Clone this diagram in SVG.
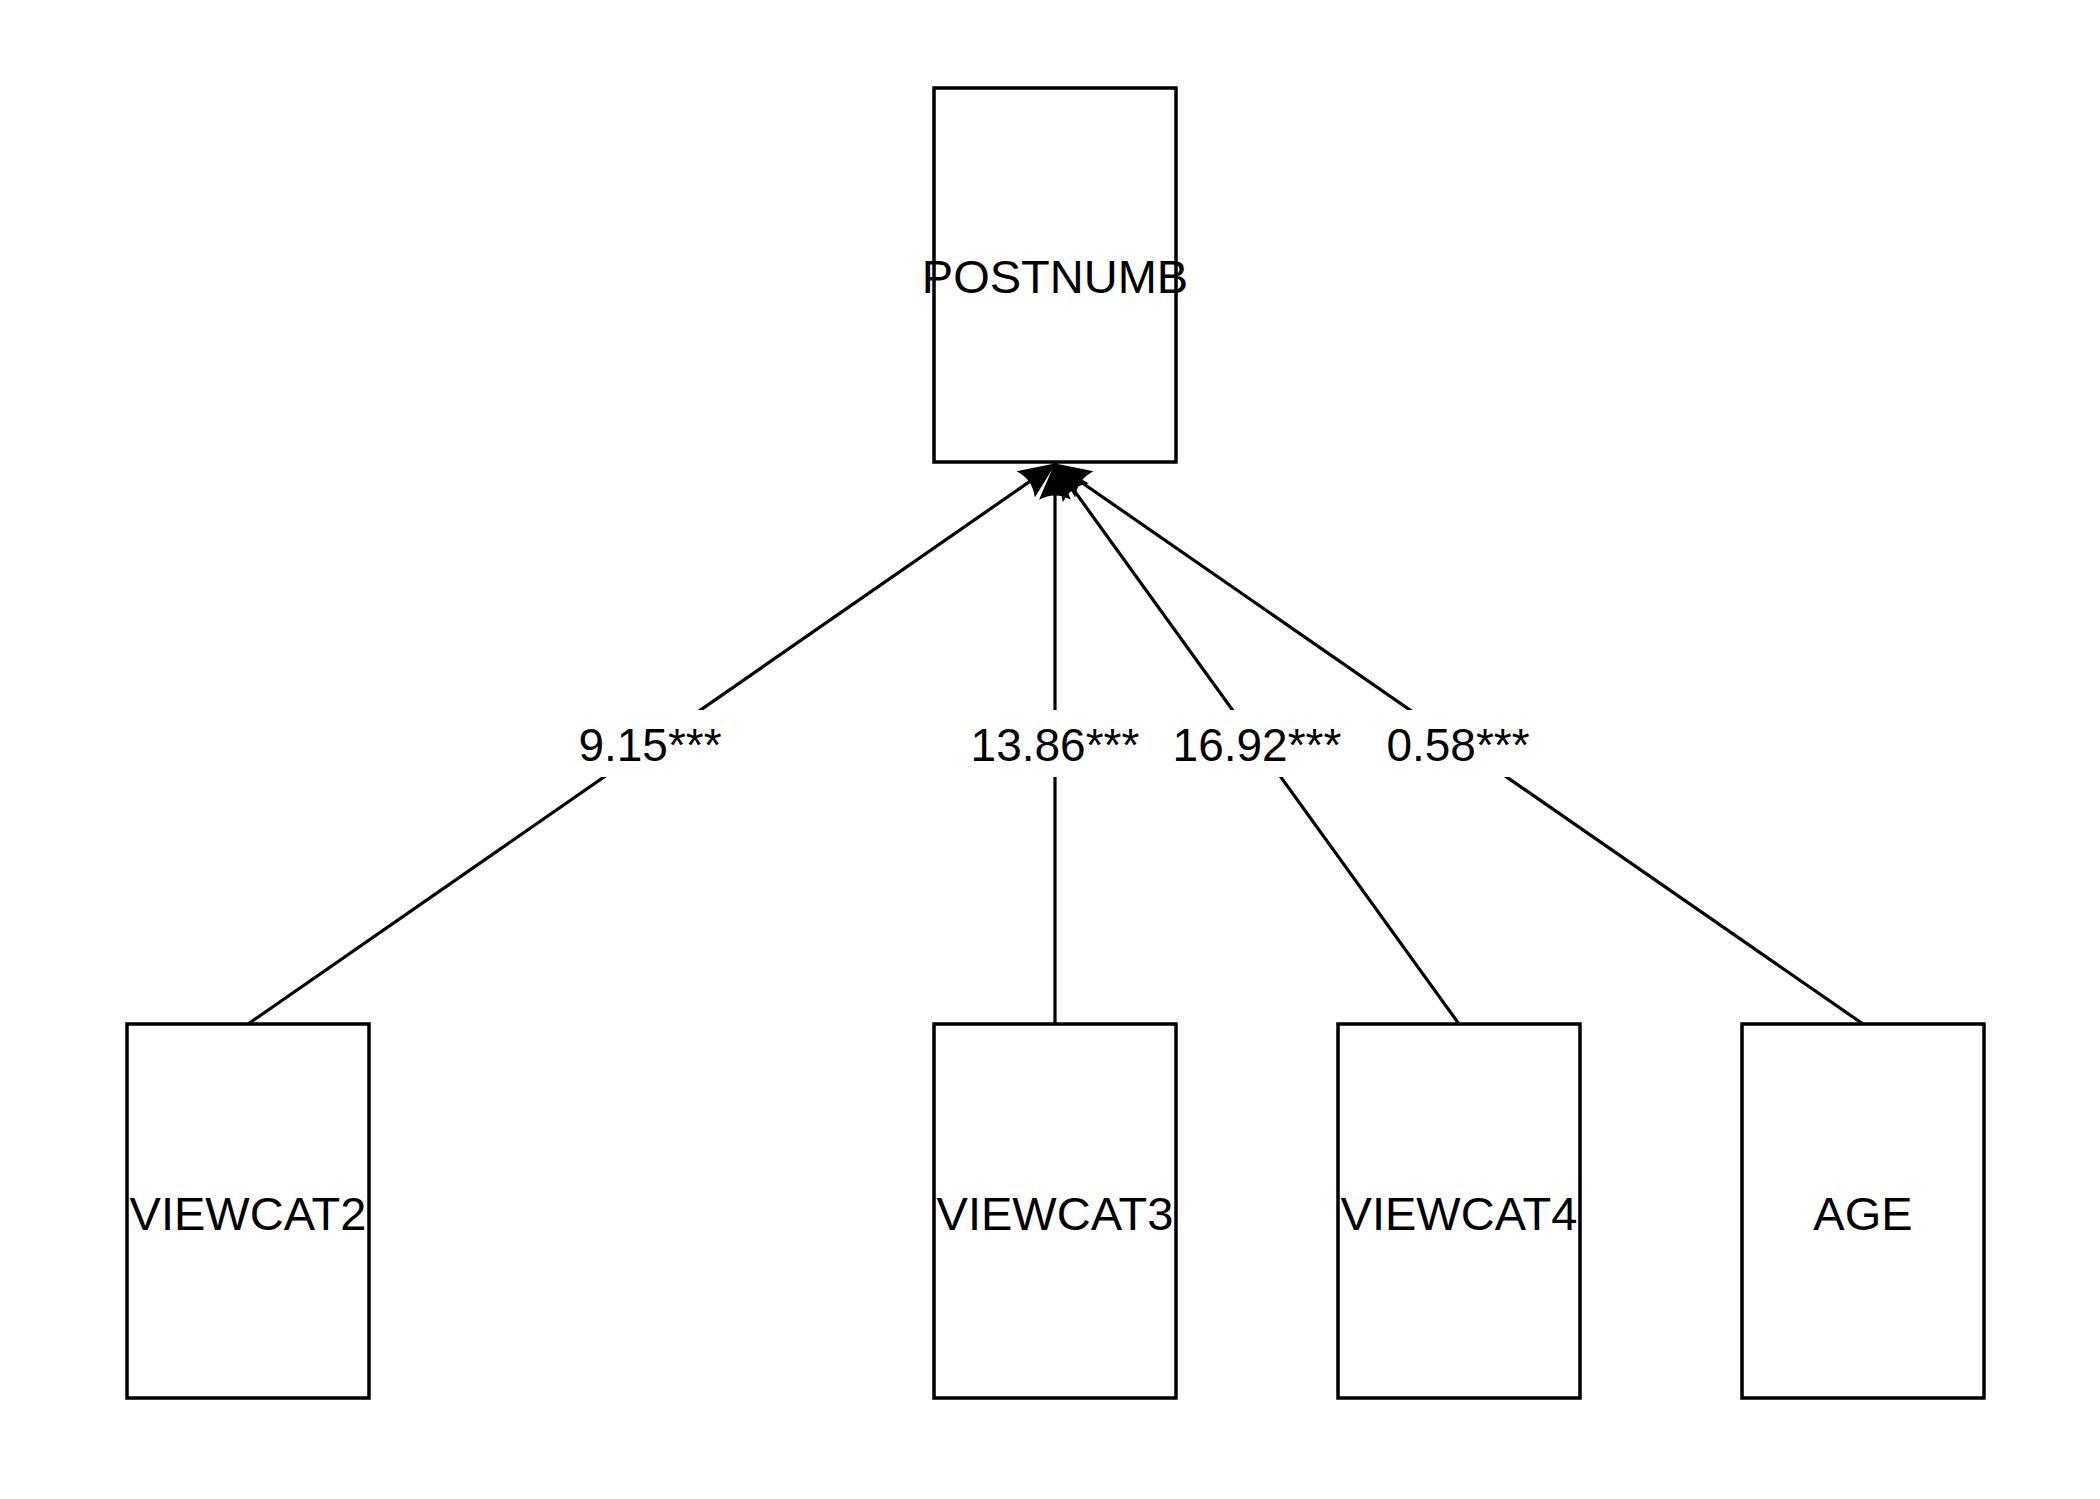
<svg xmlns="http://www.w3.org/2000/svg" width="2100" height="1499" viewBox="0 0 2100 1499">
<style>
.node rect{fill:#fff;stroke:#000;stroke-width:3.5}
.node text,.lbl text{font-family:"Liberation Sans",Arial,sans-serif;fill:#000;text-anchor:middle}
.node text{font-size:47px}
.lbl text{font-size:46px}
.edge{stroke:#000;stroke-width:3.2;fill:none}
.lbl rect{fill:#fff;stroke:none}
</style>
<defs>
<marker id="arr" markerUnits="userSpaceOnUse" markerWidth="40" markerHeight="32" viewBox="0 0 30 26" refX="29" refY="13" orient="auto">
<path d="M0,0 Q7,13 0,26 L30,13 Z" fill="#000"/>
</marker>
</defs>
<rect width="2100" height="1499" fill="#fff"/>
<g id="connectors">
<line class="edge" x1="248" y1="1024" x2="1055" y2="464" marker-end="url(#arr)"/>
<line class="edge" x1="1055" y1="1024" x2="1055" y2="464" marker-end="url(#arr)"/>
<line class="edge" x1="1459" y1="1024" x2="1055" y2="464" marker-end="url(#arr)"/>
<line class="edge" x1="1863" y1="1024" x2="1055" y2="464" marker-end="url(#arr)"/>
<g class="lbl">
<rect x="569" y="710" width="162" height="67"/><text x="650" y="761">9.15***</text>
<rect x="964" y="710" width="182" height="67"/><text x="1055" y="761">13.86***</text>
<rect x="1166" y="710" width="182" height="67"/><text x="1257" y="761">16.92***</text>
<rect x="1377" y="710" width="162" height="67"/><text x="1458" y="761">0.58***</text>
</g>
</g>
<g id="POSTNUMB" class="node"><rect x="934" y="88" width="242" height="374"/><text x="1055" y="293">POSTNUMB</text></g>
<g id="VIEWCAT2" class="node"><rect x="127" y="1024" width="242" height="374"/><text x="248" y="1230">VIEWCAT2</text></g>
<g id="VIEWCAT3" class="node"><rect x="934" y="1024" width="242" height="374"/><text x="1055" y="1230">VIEWCAT3</text></g>
<g id="VIEWCAT4" class="node"><rect x="1338" y="1024" width="242" height="374"/><text x="1459" y="1230">VIEWCAT4</text></g>
<g id="AGE" class="node"><rect x="1742" y="1024" width="242" height="374"/><text x="1863" y="1230">AGE</text></g>
</svg>
